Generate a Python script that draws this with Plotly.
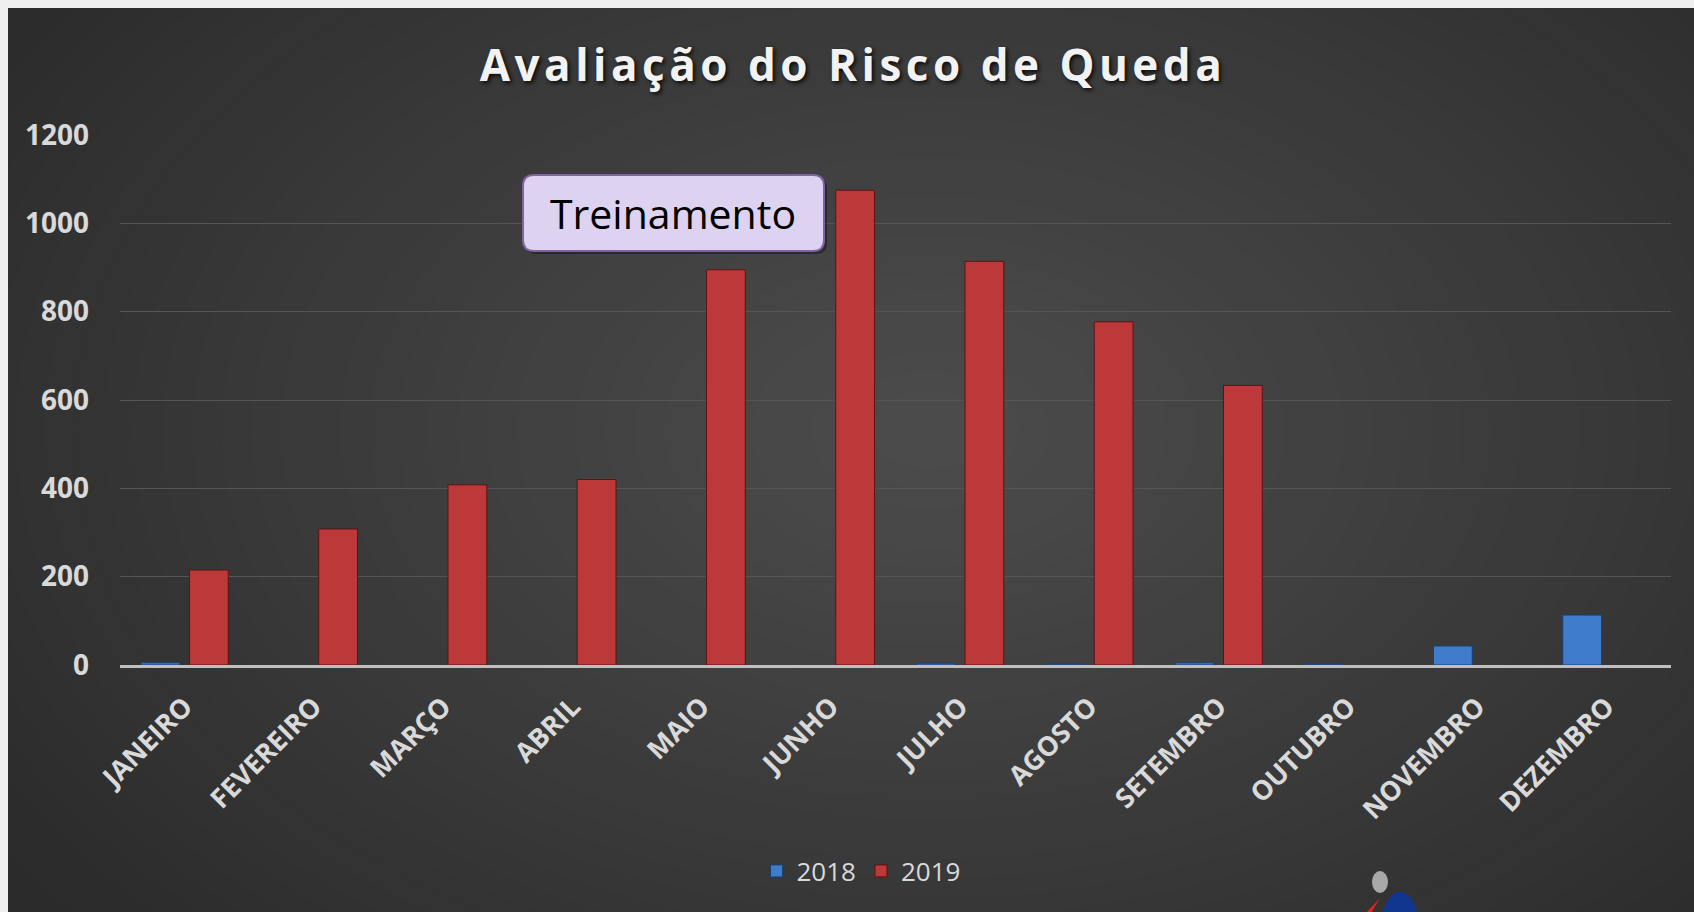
import plotly.graph_objects as go

# ---- data ----
months = ["JANEIRO", "FEVEREIRO", "MARÇO", "ABRIL", "MAIO", "JUNHO",
          "JULHO", "AGOSTO", "SETEMBRO", "OUTUBRO", "NOVEMBRO", "DEZEMBRO"]
values_2018 = [5, None, None, None, None, None, 4, 2, 5, 2, 43, 113]
values_2019 = [215, 308, 408, 420, 895, 1075, 914, 777, 633, None, None, None]
y_ticks = [0, 200, 400, 600, 800, 1000, 1200]
title_text = "Avaliação do Risco de Queda"
note_text = "Treinamento"

W, H = 1694, 912
L, R, T, B = 120, 23, 135, 247
PW, PH = W - L - R, H - T - B


def px(x):
    return (x - L) / PW


def py(y):
    return (H - B - y) / PH


FONT = "Open Sans"
TXT = "#d9d9d9"

fig = go.Figure()
fig.add_trace(go.Bar(
    name="2018", x=months, y=values_2018,
    marker=dict(color="#3f7ccb", line=dict(color="#1d3f70", width=1)),
))
fig.add_trace(go.Bar(
    name="2019", x=months, y=values_2019,
    marker=dict(color="#bd3838", line=dict(color="#5e1212", width=1)),
))

shapes = []
# radial-ish dark background gradient (decorative)
n = 40
c0, c1 = 0x29, 0x4b
cx, cy = 930, 430
for i in range(n):
    f = i / (n - 1)
    rx = 1150 * (1 - f) + 60
    ry = 760 * (1 - f) + 40
    g = int(round(c0 + (c1 - c0) * f))
    col = "#%02x%02x%02x" % (g, g, g)
    shapes.append(dict(type="circle", xref="paper", yref="paper", layer="below",
                       x0=px(cx - rx), x1=px(cx + rx), y0=py(cy + ry), y1=py(cy - ry),
                       fillcolor=col, line=dict(width=0)))
# light outer border (left / top)
shapes.append(dict(type="rect", xref="paper", yref="paper", layer="below",
                   x0=px(-5), x1=px(8), y0=py(H + 5), y1=py(-5),
                   fillcolor="#efefef", line=dict(width=0)))
shapes.append(dict(type="rect", xref="paper", yref="paper", layer="below",
                   x0=px(-5), x1=px(W + 5), y0=py(8), y1=py(-5),
                   fillcolor="#efefef", line=dict(width=0)))

# rounded callout box behind the note text
bx0, bx1, by0, by1, rad = 523, 824, 175, 251, 11


def rounded_path(x0, x1, y0, y1, r):
    pts = [
        ("M", [(x0 + r, y0)]), ("L", [(x1 - r, y0)]), ("Q", [(x1, y0), (x1, y0 + r)]),
        ("L", [(x1, y1 - r)]), ("Q", [(x1, y1), (x1 - r, y1)]),
        ("L", [(x0 + r, y1)]), ("Q", [(x0, y1), (x0, y1 - r)]),
        ("L", [(x0, y0 + r)]), ("Q", [(x0, y0), (x0 + r, y0)]),
    ]
    s = ""
    for cmd, ps in pts:
        s += cmd + " " + " ".join("%f,%f" % (px(a), py(b)) for a, b in ps) + " "
    return s + "Z"


shapes.append(dict(type="path", xref="paper", yref="paper", layer="above",
                   path=rounded_path(bx0 + 3, bx1 + 3, by0 + 3, by1 + 3, rad),
                   fillcolor="rgba(0,0,0,0.35)", line=dict(width=0)))
shapes.append(dict(type="path", xref="paper", yref="paper", layer="above",
                   path=rounded_path(bx0, bx1, by0, by1, rad),
                   fillcolor="#ddd2f0", line=dict(color="#8064a2", width=2)))

# small logo fragment at bottom
shapes.append(dict(type="circle", xref="paper", yref="paper", layer="above",
                   x0=px(1372), x1=px(1388), y0=py(893), y1=py(871),
                   fillcolor="#a8a8a8", line=dict(width=0)))
shapes.append(dict(type="circle", xref="paper", yref="paper", layer="above",
                   x0=px(1383), x1=px(1417), y0=py(945), y1=py(892),
                   fillcolor="#10368f", line=dict(width=0)))
shapes.append(dict(type="path", xref="paper", yref="paper", layer="above",
                   path="M %f,%f L %f,%f L %f,%f Z" % (px(1380), py(898), px(1364), py(915), px(1370), py(915)),
                   fillcolor="#e0231f", line=dict(width=0)))

fig.update_layout(
    width=W, height=H,
    margin=dict(l=L, r=R, t=T, b=B),
    paper_bgcolor="#323232",
    plot_bgcolor="rgba(0,0,0,0)",
    barmode="group", bargap=0.25, bargroupgap=0.2,
    shapes=shapes,
    title=dict(text=title_text, x=853 / W, xanchor="center", xref="container",
               y=1 - 66 / H, yanchor="middle",
               font=dict(family=FONT, size=44, color="#f2f2f2", weight="bold",
                         shadow="2px 2px 4px rgba(0,0,0,0.85)")),
    font=dict(family=FONT, color=TXT),
    showlegend=True,
    legend=dict(orientation="h", x=px(861), xanchor="center", y=py(871), yanchor="middle",
                font=dict(family=FONT, size=26, color=TXT), bgcolor="rgba(0,0,0,0)",
                traceorder="normal"),
    annotations=[dict(
        text=note_text, x=px(673), y=py(213), xref="paper", yref="paper", showarrow=False,
        font=dict(family=FONT, size=41, color="#000000"),
        xanchor="center", yanchor="middle")],
)
fig.update_yaxes(range=[0, 1200], tickvals=y_ticks, showgrid=True, gridcolor="#555555",
                 gridwidth=1, zeroline=False, showline=False,
                 tickfont=dict(family=FONT, size=28, color=TXT, weight="bold"),
                 ticklabelstandoff=30)
fig.update_xaxes(showline=True, linecolor="#bfbfbf", linewidth=3, tickangle=-45,
                 tickfont=dict(family=FONT, size=27, color=TXT, weight="bold"),
                 ticklabelstandoff=12, range=[-0.5, 11.5])

post = """
document.body.style.margin = '0';
document.body.style.overflow = 'hidden';
document.querySelectorAll('.gtitle').forEach(function(t){ t.style.letterSpacing = '4.5px'; });
"""
fig.write_html("out.html", post_script=post, config={"displayModeBar": False})
